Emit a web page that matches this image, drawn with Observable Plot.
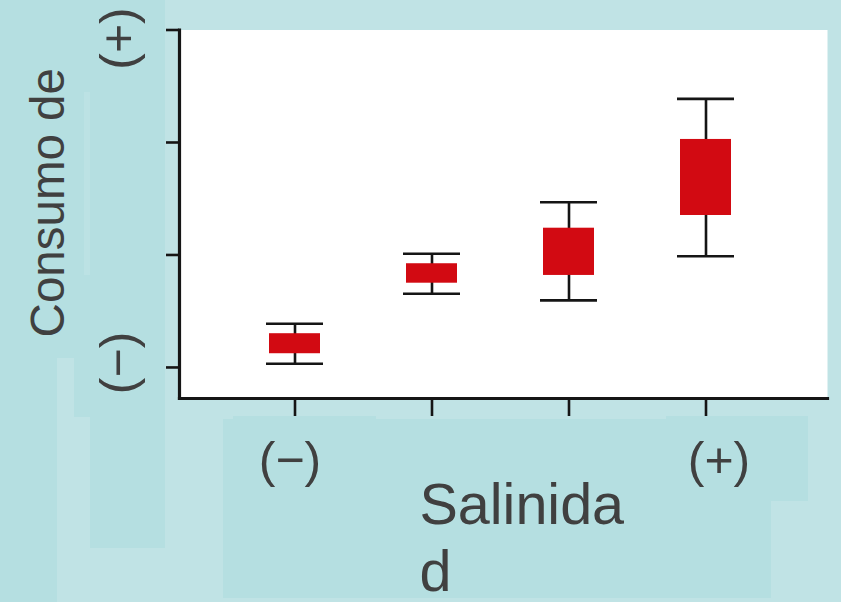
<!DOCTYPE html>
<html>
<head>
<meta charset="utf-8">
<script src="https://cdn.jsdelivr.net/npm/d3@7"></script>
<script src="https://cdn.jsdelivr.net/npm/@observablehq/plot@0.6"></script>
<style>
  html, body { margin: 0; padding: 0; background: #c0e3e5; }
  #wrap { position: relative; width: 841px; height: 602px; overflow: hidden; background: #c0e3e5; }
  .bg { position: absolute; background: #b5dfe1; }
  #chart { position: absolute; left: 0; top: 0; }
</style>
</head>
<body>
<div id="wrap">
  <div class="bg" style="left:0;top:0;width:165px;height:358px"></div>
  <div class="bg" style="left:0;top:0;width:57px;height:602px"></div>
  <div class="bg" style="left:74px;top:358px;width:91px;height:59px"></div>
  <div class="bg" style="left:90px;top:417px;width:75px;height:131px"></div>
  <div class="bg" style="left:84px;top:92px;width:6px;height:183px;background:#bce2e4"></div>
  <div class="bg" style="left:223px;top:419px;width:548px;height:179px"></div>
  <div class="bg" style="left:233px;top:416px;width:143px;height:84px"></div>
  <div class="bg" style="left:666px;top:416px;width:142px;height:85px"></div>
  <div id="chart"></div>
</div>
<script>
// categories (salinity levels) and their axis labels
const groups = ["1", "2", "3", "4"];
const xTickLabels = ["(−)", "", "", "(+)"];
// box statistics (relative consumption, arbitrary units)
const whiskerLow  = [0.033, 0.655, 0.596, 0.989];
const q1          = [0.122, 0.749, 0.818, 1.351];
const q3          = [0.300, 0.922, 1.238, 2.027];
const whiskerHigh = [0.388, 1.011, 1.469, 2.388];
// y axis ticks
const yTicks = [0, 1, 2, 3];
const yTickLabels = ["(−)", "", "", "(+)"];

const data = groups.map((g, i) => ({g, lo: whiskerLow[i], q1: q1[i], q3: q3[i], hi: whiskerHigh[i]}));
const xLab = groups.map((g, i) => ({g, label: xTickLabels[i]}));
const yLab = yTicks.map((v, i) => ({v, label: yTickLabels[i]}));

const ink = "#404040";
const line = "#151515";
const font = "Liberation Sans, Arial, sans-serif";

const chart = Plot.plot({
  width: 841,
  height: 602,
  marginLeft: 179,
  marginRight: 14,
  marginTop: 29.5,
  marginBottom: 204,
  style: {background: "transparent", fontFamily: font, overflow: "visible"},
  x: {type: "band", domain: groups, paddingInner: 0.63, paddingOuter: 0.668, align: 0.481},
  y: {domain: [-0.276, 3]},
  marks: [
    Plot.frame({fill: "white", stroke: "none"}),
    Plot.ruleX(data, {x: "g", y1: "lo", y2: "hi", stroke: line, strokeWidth: 2.6}),
    Plot.barY(data, {x: "g", y1: "q1", y2: "q3", fill: "#d20a12"}),
    Plot.tickY(data, {x: "g", y: "lo", stroke: line, strokeWidth: 2.6, insetLeft: -3, insetRight: -3}),
    Plot.tickY(data, {x: "g", y: "hi", stroke: line, strokeWidth: 2.6, insetLeft: -3, insetRight: -3}),
    Plot.axisY(yTicks, {tickSize: 13, tickFormat: () => "", label: null, stroke: line, strokeWidth: 2.6}),
    Plot.axisX({tickSize: 18, tickFormat: () => "", label: null, stroke: line, strokeWidth: 2.6}),
    Plot.frame({anchor: "left", stroke: line, strokeWidth: 3.2}),
    Plot.frame({anchor: "bottom", stroke: line, strokeWidth: 3.2}),
    // x tick labels
    Plot.text(xLab.slice(0, 1), {x: "g", text: "label", frameAnchor: "bottom", dy: 62, dx: -5,
      fontSize: 50, fill: ink, lineAnchor: "middle"}),
    Plot.text(xLab.slice(3), {x: "g", text: "label", frameAnchor: "bottom", dy: 62, dx: 13,
      fontSize: 50, fill: ink, lineAnchor: "middle"}),
    // y tick labels (rotated)
    Plot.text(yLab.slice(3), {y: "v", text: "label", frameAnchor: "left", dx: -60.3, dy: 8.5,
      rotate: -90, fontSize: 50, fill: ink, textAnchor: "middle", lineAnchor: "middle"}),
    Plot.text(yLab.slice(0, 1), {y: "v", text: "label", frameAnchor: "left", dx: -60.3, dy: -4.5,
      rotate: -90, fontSize: 50, fill: ink, textAnchor: "middle", lineAnchor: "middle"}),
    // axis titles
    Plot.text(["Consumo de"], {frameAnchor: "left", dx: -116, dy: -11.5, rotate: -90,
      fontSize: 47.5, fill: ink, textAnchor: "middle", lineAnchor: "bottom"}),
    Plot.text(["Salinida\nd"], {frameAnchor: "bottom-left", dx: 240, dy: 192.7,
      fontSize: 57.5, lineHeight: 1.17, fill: ink, textAnchor: "start", lineAnchor: "bottom"})
  ]
});
document.getElementById("chart").appendChild(chart);
</script>
</body>
</html>
